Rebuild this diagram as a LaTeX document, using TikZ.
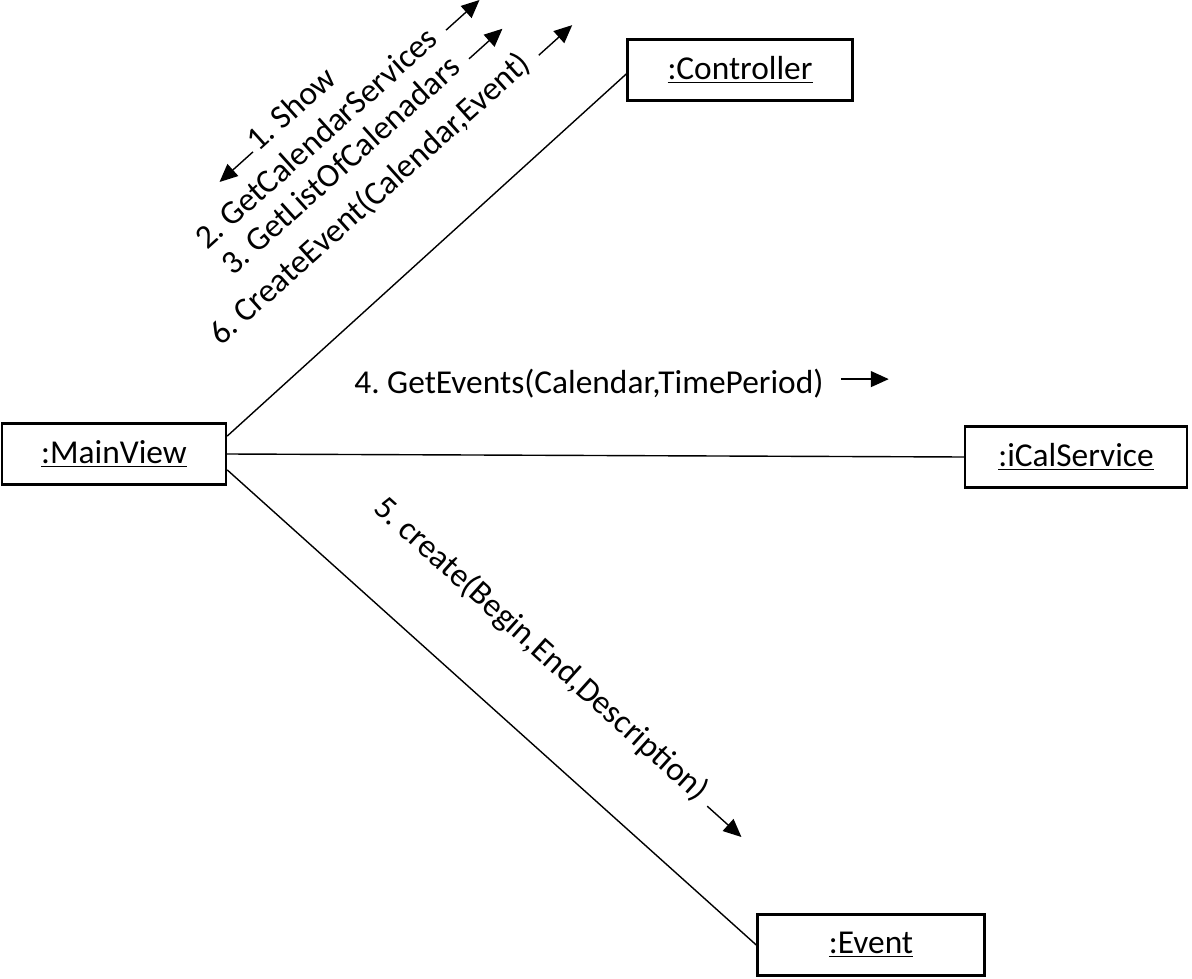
\documentclass[tikz,border=0pt]{standalone}
\usepackage{fontspec}
\setmainfont{Carlito}
\usetikzlibrary{arrows.meta}
\frenchspacing

\begin{document}
\begin{tikzpicture}[x=0.02cm, y=-0.02cm,
  object/.style={draw, line width=1.4pt, minimum height=1.22cm, inner sep=0pt,
    font=\fontsize{19}{23}\selectfont},
  link/.style={line width=0.8pt},
  msg/.style={font=\fontsize{19}{23}\selectfont, inner sep=0pt, anchor=base west},
  msgarrow/.style={line width=0.8pt, shorten <=0.24cm,
    -{Triangle[length=0.36cm, width=0.32cm]}}]

  \useasboundingbox (0,0) rectangle (1192,979);

  % Objects
  \node[object, minimum width=4.48cm] (mainview) at (114,454) {\underline{:MainView}};
  \node[object, minimum width=4.5cm] (controller) at (740,70) {\underline{:Controller}};
  \node[object, minimum width=4.44cm] (ical) at (1076,457) {\underline{:iCalService}};
  \node[object, minimum width=4.54cm] (event) at (871,945) {\underline{:Event}};

  % Links
  \draw[link] (mainview.9) -- (controller.182);
  \draw[link] (mainview.east) -- (ical.west);
  \draw[link] (mainview.-8) -- (event.west);

  % Messages to the controller
  \node[msg, rotate=42] (show) at (258,153) {1. Show};
  \node[msg, rotate=42] (services) at (207,251) {2. GetCalendarServices};
  \node[msg, rotate=42] (calendars) at (233,277) {3. GetListOfCalenadars};
  \node[msg, rotate=42] (createevent) at (221,347) {6. CreateEvent(Calendar,Event)};

  \draw[msgarrow, shorten <=0.06cm] (show.mid west) -- ++(222:0.96cm);
  \foreach \lbl in {services, calendars, createevent} {
    \draw[msgarrow] (\lbl.mid east) -- ++(42:1.14cm);
  }

  % Message to the calendar service
  \node[msg] (getevents) at (354,394) {4. GetEvents(Calendar,TimePeriod)};
  \draw[msgarrow, shorten <=0.34cm] ([yshift=0.1cm]getevents.east) -- ++(1.3cm,0);

  % Message to the event
  \node[msg, rotate=-42] (create) at (372,510) {5. create(Begin,End,Description)};
  \draw[msgarrow, shorten <=0.2cm] (create.mid east) -- ++(-42:1.12cm);

\end{tikzpicture}
\end{document}
